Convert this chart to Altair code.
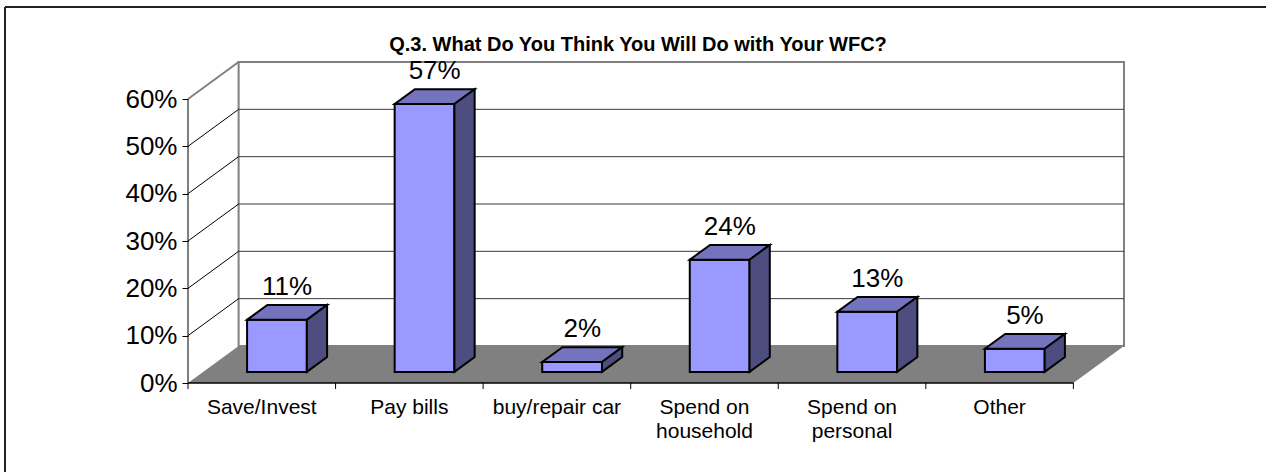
import altair as alt
import pandas as pd

# ---- data ----
categories = ["Save/Invest", "Pay bills", "buy/repair car",
              "Spend on\nhousehold", "Spend on\npersonal", "Other"]
values = [11.0, 56.6, 2.1, 23.7, 12.7, 4.9]
y_ticks = [0, 10, 20, 30, 40, 50, 60]
title_text = "Q.3. What Do You Think You Will Do with Your WFC?"

# ---- 3-D look (style constants) ----
N = len(categories)
DX = 0.343        # depth shift, category units
DY = 7.82         # depth shift, percent units
BAR_W = 0.405
D_FRONT, D_BACK = 0.3, 0.7
YMAX = y_ticks[-1]
FONT = "Liberation Sans"

W, H = 936, 321
PAD = {"left": 188, "top": 62, "right": 1266 - 188 - W, "bottom": 472 - 62 - H}

xs = alt.Scale(domain=[0, N + DX], nice=False, zero=False)
ys = alt.Scale(domain=[0, YMAX + DY], nice=False, zero=False)

YAXIS = alt.Axis(values=y_ticks, title=None, grid=False, domain=False,
                 tickSize=6, tickColor="black", tickWidth=1, labelPadding=5,
                 labelFont=FONT, labelFontSize=26, labelColor="black",
                 labelExpr="datum.value + '%'")

def X(f, **kw):
    return alt.X(f, type="quantitative", scale=xs, axis=None, **kw)

def Y(f, **kw):
    return alt.Y(f, type="quantitative", scale=ys, axis=YAXIS, **kw)

# ---- walls & floor ----
wall = pd.DataFrame({"x": [DX], "x2": [N + DX], "y": [DY], "y2": [YMAX + DY]})
back_wall = alt.Chart(wall).mark_rect(fill="white", stroke="#808080", strokeWidth=2).encode(
    x=X("x"), x2="x2", y=Y("y"), y2="y2")

floor_df = pd.DataFrame({"x": [0, DX, N, N + DX],
                         "y": [0, 0, 0, DY],
                         "y2": [0, DY, DY, DY]})
floor = alt.Chart(floor_df).mark_area(color="#808080", interpolate="linear").encode(
    x=X("x"), y=Y("y"), y2="y2")

inner = [t for t in y_ticks if 0 < t < YMAX]
diag_df = pd.DataFrame({"x": [0] * len(inner), "x2": [DX] * len(inner),
                        "y": inner, "y2": [t + DY for t in inner]})
diags = alt.Chart(diag_df).mark_rule(color="black", strokeWidth=1).encode(
    x=X("x"), x2="x2", y=Y("y"), y2="y2")

top_diag_df = pd.DataFrame({"x": [0], "x2": [DX], "y": [YMAX], "y2": [YMAX + DY]})
top_diag = alt.Chart(top_diag_df).mark_rule(color="#808080", strokeWidth=2).encode(
    x=X("x"), x2="x2", y=Y("y"), y2="y2")

grid_df = pd.DataFrame({"x": [DX] * len(inner), "x2": [N + DX] * len(inner),
                        "y": [t + DY for t in inner]})
grid = alt.Chart(grid_df).mark_rule(color="#3a3a3a", strokeWidth=1).encode(
    x=X("x"), x2="x2", y=Y("y"))

# ---- front axes ----
yline_df = pd.DataFrame({"x": [0], "y": [0], "y2": [YMAX]})
yline = alt.Chart(yline_df).mark_rule(color="black", strokeWidth=1).encode(
    x=X("x"), y=Y("y"), y2="y2")

xline_df = pd.DataFrame({"x": [0], "x2": [N], "y": [0]})
xline = alt.Chart(xline_df).mark_rule(color="black", strokeWidth=1.5).encode(
    x=X("x"), x2="x2", y=Y("y"))

ticks_df = pd.DataFrame({"x": list(range(N + 1)), "y": [0] * (N + 1)})
xticks = alt.Chart(ticks_df).mark_rule(color="black", strokeWidth=1).encode(
    x=X("x"), y=Y("y"), y2=alt.value(H + 6))

lab_df = pd.DataFrame({"x": [i + 0.5 for i in range(N)], "y": [0] * N, "label": categories})
xlabels = alt.Chart(lab_df).mark_text(
    baseline="top", align="center", dy=14, lineBreak="\n", lineHeight=24,
    font=FONT, fontSize=21, color="black").encode(
    x=X("x"), y=Y("y"), text="label:N")

# ---- bars ----
dd = (D_BACK - D_FRONT) * DX
yf, yb = D_FRONT * DY, D_BACK * DY
front_rows, top_rows, side_rows, label_rows = [], [], [], []
for i, (cat, v) in enumerate(zip(categories, values)):
    c = i + 0.5 + D_FRONT * DX
    xl, xr = c - BAR_W / 2, c + BAR_W / 2
    front_rows.append({"bar": i, "x": xl, "x2": xr, "y": yf, "y2": v + yf})
    top_rows += [
        {"bar": i, "x": xl, "y": v + yf, "y2": v + yf},
        {"bar": i, "x": xl + dd, "y": v + yf, "y2": v + yb},
        {"bar": i, "x": xr, "y": v + yf, "y2": v + yb},
        {"bar": i, "x": xr + dd, "y": v + yb, "y2": v + yb},
    ]
    side_rows += [
        {"bar": i, "x": xr, "y": yf, "y2": v + yf},
        {"bar": i, "x": xr + dd, "y": yb, "y2": v + yb},
    ]
    label_rows.append({"x": c + dd / 2, "y": v + yb, "label": f"{round(v)}%"})

front = alt.Chart(pd.DataFrame(front_rows)).mark_rect(
    fill="#9999FF", stroke="black", strokeWidth=2, strokeJoin="miter").encode(
    x=X("x"), x2="x2", y=Y("y"), y2="y2")
top = alt.Chart(pd.DataFrame(top_rows)).mark_area(
    fill="#7373BE", stroke="black", strokeWidth=2, strokeJoin="miter",
    interpolate="linear").encode(
    x=X("x"), y=Y("y"), y2="y2", detail="bar:N")
side = alt.Chart(pd.DataFrame(side_rows)).mark_area(
    fill="#4D4D80", stroke="black", strokeWidth=2, strokeJoin="miter",
    interpolate="linear").encode(
    x=X("x"), y=Y("y"), y2="y2", detail="bar:N")

vlabels = alt.Chart(pd.DataFrame(label_rows)).mark_text(
    baseline="alphabetic", align="center", dy=-10,
    font=FONT, fontSize=26, color="black").encode(
    x=X("x"), y=Y("y"), text="label:N")

# ---- title and outer frame (decoration) ----
one = pd.DataFrame({"t": [title_text]})
title = alt.Chart(one).mark_text(
    baseline="alphabetic", align="center", font=FONT, fontSize=20,
    fontWeight="bold", color="black").encode(
    x=alt.value(638 - PAD["left"]), y=alt.value(51 - PAD["top"]), text="t:N")

frame_top = alt.Chart(one).mark_rule(color="#222222", strokeWidth=2).encode(
    x=alt.value(5 - PAD["left"]), x2=alt.value(1266 - PAD["left"]),
    y=alt.value(7 - PAD["top"]), y2=alt.value(7 - PAD["top"]))
frame_left = alt.Chart(one).mark_rule(color="#222222", strokeWidth=2).encode(
    x=alt.value(5 - PAD["left"]), x2=alt.value(5 - PAD["left"]),
    y=alt.value(7 - PAD["top"]), y2=alt.value(472 - PAD["top"]))

chart = alt.layer(
    back_wall, floor, grid, diags, top_diag, yline, xline, xticks,
    front, top, side, vlabels, xlabels, title, frame_top, frame_left,
).properties(
    width=W, height=H,
    autosize=alt.AutoSizeParams(type="none"),
    padding=PAD,
    background="white",
).configure_view(stroke=None)

chart.save("out.html", embed_options={"renderer": "svg", "actions": False})
